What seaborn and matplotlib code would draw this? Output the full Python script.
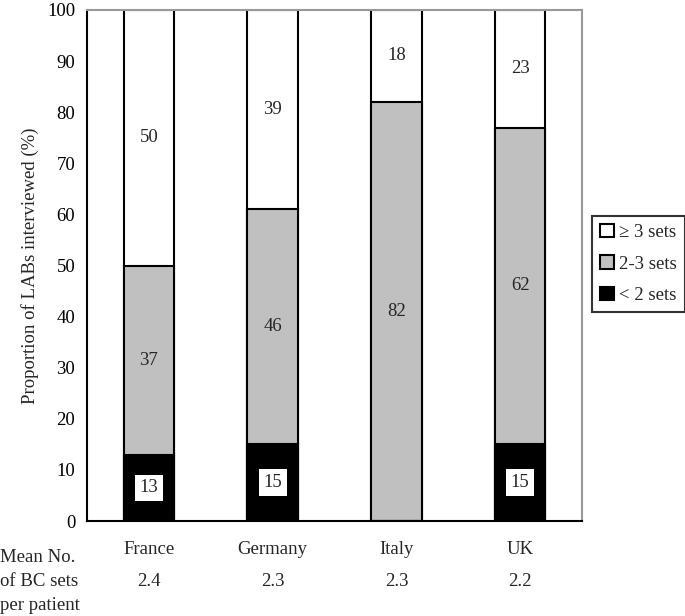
import numpy as np
import pandas as pd
import seaborn as sns
import matplotlib.pyplot as plt
from matplotlib.patches import Patch

## data
countries = ['France', 'Germany', 'Italy', 'UK']
less_2 = [13, 15, 0, 15]
sets_2_3 = [37, 46, 82, 62]
more_3 = [50, 39, 18, 23]
mean_sets = ['2.4', '2.3', '2.3', '2.2']

df = pd.DataFrame({'country': countries, 'lt2': less_2, 'mid': sets_2_3, 'ge3': more_3})
df['cum_mid'] = df['lt2'] + df['mid']
df['total'] = df['cum_mid'] + df['ge3']

sns.set_style('white')
plt.rcParams['font.family'] = ['Liberation Serif', 'DejaVu Serif']
fs = 13.5

fig = plt.figure(figsize=(6.85, 6.16), dpi=100)
ax = fig.add_axes([87/685, 95/616, 495/685, 511/616])

# stacked look by overlaying cumulative bars
bar_kw = dict(edgecolor='black', linewidth=1.5, width=0.41, saturation=1, ax=ax, errorbar=None)
sns.barplot(data=df, x='country', y='total', color='white', **bar_kw)
sns.barplot(data=df, x='country', y='cum_mid', color='#c0c0c0', **bar_kw)
sns.barplot(data=df, x='country', y='lt2', color='black', **bar_kw)

# segment labels
for i, row in df.iterrows():
    ax.text(i, row['cum_mid'] + row['ge3'] / 2, str(row['ge3']), ha='center', va='center', fontsize=fs)
    ax.text(i, row['lt2'] + row['mid'] / 2, str(row['mid']), ha='center', va='center', fontsize=fs)
    if row['lt2'] > 0:
        ax.text(i, row['lt2'] / 2, str(row['lt2']), ha='center', va='center', fontsize=fs,
                bbox=dict(facecolor='white', edgecolor='none', boxstyle='square,pad=0.25'))

ax.set_xlim(-0.5, 3.5)
ax.set_ylim(0, 100)
ax.set_yticks(np.arange(0, 101, 10))
ax.set_xticks([-0.5, 0.5, 1.5, 2.5, 3.5])
ax.set_xticklabels([])
ax.tick_params(axis='both', direction='out', length=5, width=1.2, colors='black', labelsize=fs)
ax.tick_params(axis='x', length=6)
ax.set_xlabel('')
ax.set_ylabel('Proportion of LABs interviewed (%)', fontsize=fs, labelpad=6)

for s in ['left', 'bottom']:
    ax.spines[s].set_color('black')
    ax.spines[s].set_linewidth(1.5)
for s in ['top', 'right']:
    ax.spines[s].set_visible(True)
    ax.spines[s].set_color('#999999')
    ax.spines[s].set_linewidth(1.5)

# country names and means below the axis
trans = ax.get_xaxis_transform()
for i, c in enumerate(countries):
    ax.text(i, -28/511, c, transform=trans, ha='center', va='center', fontsize=fs)
    ax.text(i, -61/511, mean_sets[i], transform=trans, ha='center', va='center', fontsize=fs)
fig.text(0.0, 1 - 558/616, 'Mean No.', ha='left', va='center', fontsize=fs)
fig.text(0.0, 1 - 582/616, 'of BC sets', ha='left', va='center', fontsize=fs)
fig.text(0.0, 1 - 605/616, 'per patient', ha='left', va='center', fontsize=fs)

handles = [Patch(facecolor='white', edgecolor='black', linewidth=1.5, label='≥ 3 sets'),
           Patch(facecolor='#c0c0c0', edgecolor='black', linewidth=1.5, label='2-3 sets'),
           Patch(facecolor='black', edgecolor='black', linewidth=1.5, label='< 2 sets')]
leg = fig.legend(handles=handles, loc='center left', bbox_to_anchor=(592/685, 1 - 264/616),
                 fontsize=fs, frameon=True, fancybox=False, handlelength=0.7, handleheight=0.7,
                 handletextpad=0.3, borderpad=0.45, labelspacing=0.75, borderaxespad=0)
leg.get_frame().set_edgecolor('black')
leg.get_frame().set_linewidth(1.5)

fig.savefig('out.png', dpi=100)
